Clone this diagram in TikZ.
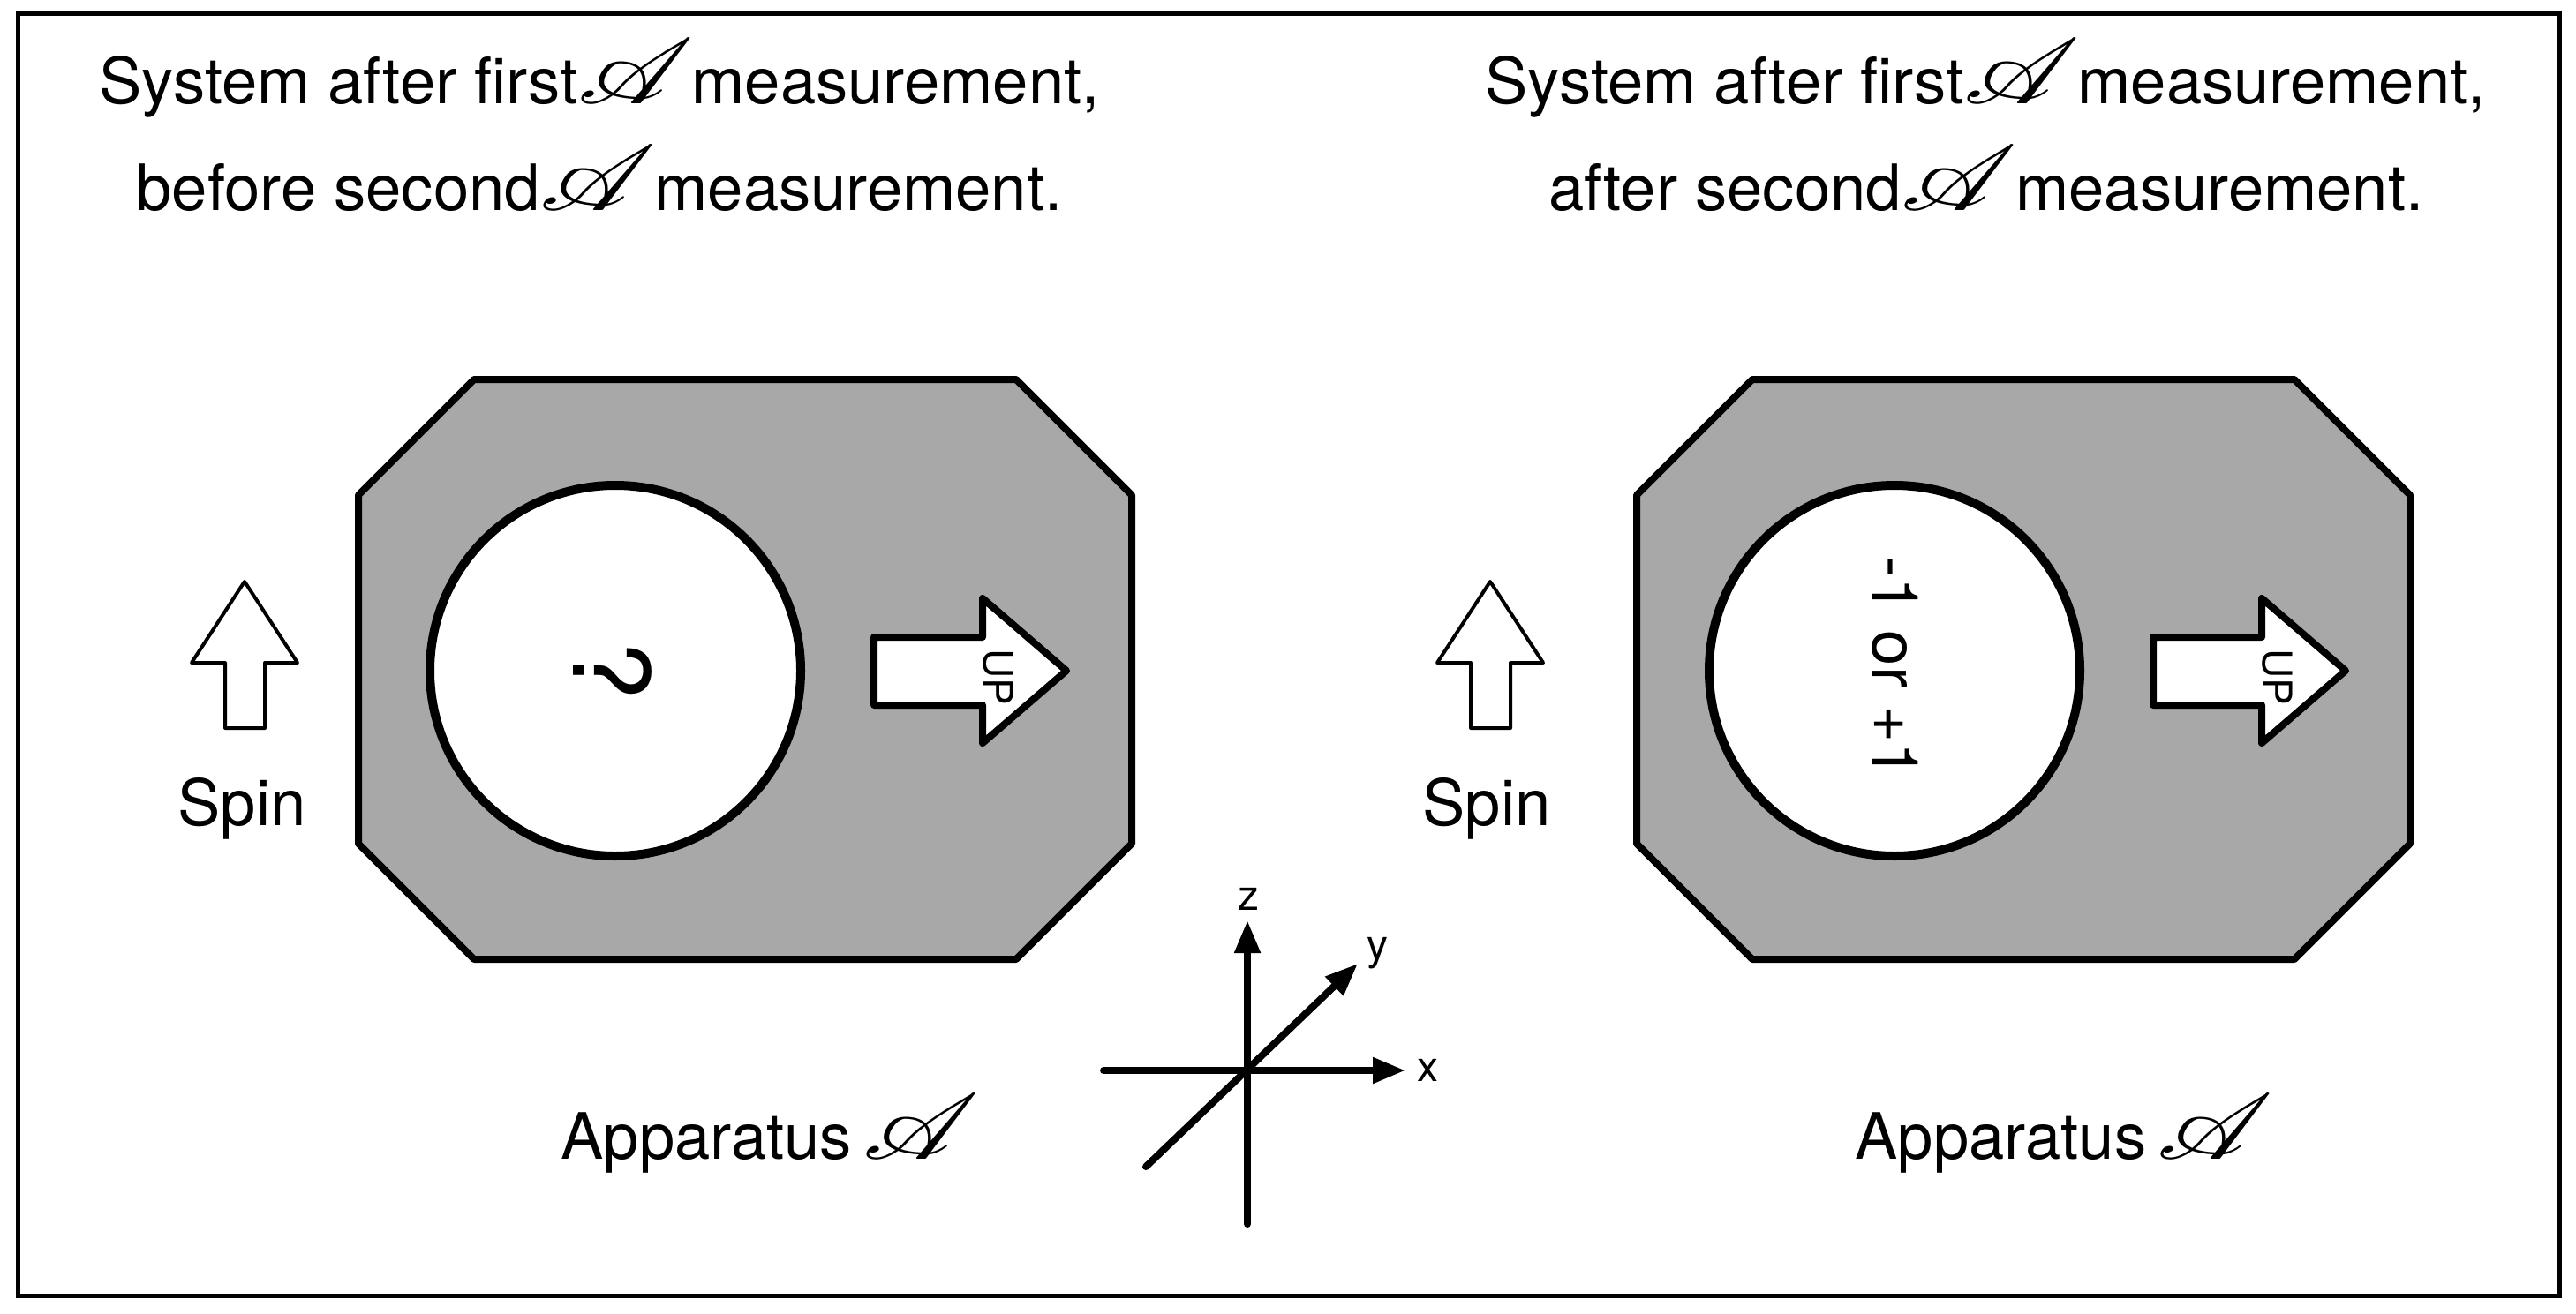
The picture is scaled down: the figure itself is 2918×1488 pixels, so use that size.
\documentclass[tikz,border=0pt]{standalone}
\usepackage{fontspec}
\setmainfont{TeX Gyre Heros}
\usepackage{mathrsfs}
\usepackage{graphicx}
\usetikzlibrary{arrows.meta}
\definecolor{octgray}{RGB}{168,168,168}
\tikzset{
  lbl/.style={font=\fontsize{18.1}{22}\selectfont, inner sep=0pt, anchor=base},
  small/.style={font=\fontsize{12}{14}\selectfont, inner sep=0pt, anchor=base},
  octa/.style={draw=black, fill=octgray, line width=2pt, line join=round},
  dial/.style={circle, draw=black, fill=white, line width=2.5pt, minimum size=105pt, inner sep=0pt},
  uparrow/.style={draw=black, fill=white, line width=2pt, line join=round},
  spinarrow/.style={draw=black, fill=white, line width=1pt, line join=round},
  axis/.style={line width=2pt, line cap=round},
  axtip/.style={-{Triangle[length=9.25pt,width=7pt]}}
}
\newcommand{\scrA}{{\fontsize{36}{40}\selectfont\scalebox{1.28}[1.05]{$\mathscr{A}$}}}
\newcommand{\Agap}{\kern-5.5pt\ }
\begin{document}
\begin{tikzpicture}[x=0.25pt,y=-0.25pt]
\useasboundingbox (0,0) rectangle (2918,1488);
% frame
\draw[line width=1.25pt] (20,15) rectangle (2899,1468);

% titles
\node[lbl] (t1a) at (679,117) {System after first\scrA\Agap measurement,};
\node[lbl] (t1b) at (679,238) {before second\scrA\Agap measurement.};
\node[lbl] (t2a) at (2249,117) {System after first\scrA\Agap measurement,};
\node[lbl] (t2b) at (2250,238) {after second\scrA\Agap measurement.};

% left octagon
\draw[octa] (537,430) -- (1151,430) -- (1282,561) -- (1282,956) -- (1151,1087)
  -- (537,1087) -- (406,956) -- (406,561) -- cycle;
% right octagon
\draw[octa] (1985,430) -- (2599,430) -- (2730,561) -- (2730,956) -- (2599,1087)
  -- (1985,1087) -- (1854,956) -- (1854,561) -- cycle;

% dials
\node[dial] (d1) at (697,760) {};
\node[dial] (d2) at (2146,760) {};
\node[font=\fontsize{30}{34}\selectfont, rotate=-90, inner sep=0pt] (q) at (694,760) {?};
\node[font=\fontsize{18.1}{22}\selectfont, rotate=-90, inner sep=0pt] (r) at (2147,756) {-1 or +1};

% UP arrows
\draw[uparrow] (990,722) -- (1113,722) -- (1113,678) -- (1208,760) -- (1113,842)
  -- (1113,799) -- (990,799) -- cycle;
\draw[uparrow] (2439,722) -- (2562,722) -- (2562,678) -- (2657,760) -- (2562,842)
  -- (2562,799) -- (2439,799) -- cycle;
\node[font=\fontsize{11.5}{13}\selectfont, rotate=-90, inner sep=0pt] (up1) at (1131,767) {UP};
\node[font=\fontsize{11.5}{13}\selectfont, rotate=-90, inner sep=0pt] (up2) at (2580,767) {UP};

% spin arrows
\draw[spinarrow] (277,659) -- (337,751) -- (300,751) -- (300,825) -- (255,825)
  -- (255,751) -- (217,751) -- cycle;
\draw[spinarrow] (1688,659) -- (1748,751) -- (1711,751) -- (1711,825) -- (1666,825)
  -- (1666,751) -- (1628,751) -- cycle;
\node[lbl] (s1) at (274,935) {Spin};
\node[lbl] (s2) at (1684,935) {Spin};

% apparatus labels
\node[lbl] (a1) at (872,1313) {Apparatus\kern3pt\scrA};
\node[lbl] (a2) at (2338,1313) {Apparatus\kern3pt\scrA};

% axes
\coordinate (o) at (1413,1213);
\coordinate (zb) at (1413,1387);
\coordinate (zt) at (1413,1043);
\coordinate (xl) at (1250,1213);
\coordinate (xr) at (1592,1213);
\coordinate (yl) at (1298,1322);
\coordinate (yr) at (1538,1092);
\draw[axis,axtip] (zb) -- (zt);
\draw[axis,axtip] (xl) -- (xr);
\draw[axis,axtip] (yl) -- (yr);
\node[small] (zl) at (1414,1031) {z};
\node[small] (xlab) at (1617,1225) {x};
\node[small] (ylab) at (1560,1087) {y};
\end{tikzpicture}
\end{document}
